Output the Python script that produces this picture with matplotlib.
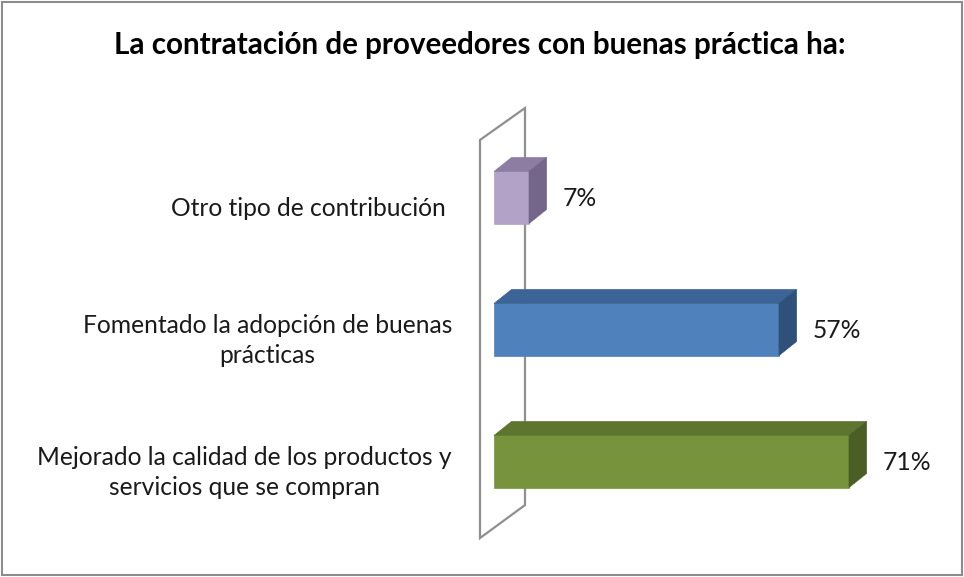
"""
plot.py
-------
3D-looking horizontal bar chart: contratación de proveedores con buenas prácticas.
"""

import matplotlib
matplotlib.use("Agg")
import matplotlib.pyplot as plt
from matplotlib.patches import Polygon, Rectangle

# -------------------------------------------------------------------------
# Data (bottom to top)
# -------------------------------------------------------------------------
categories = [
    "Mejorado la calidad de los productos y\nservicios que se compran",
    "Fomentado la adopción de buenas\nprácticas",
    "Otro tipo de contribución ",
]
values = [71, 57, 7]
value_labels = ["71%", "57%", "7%"]

title = "La contratación de proveedores con buenas práctica ha:"

# front / top / side shades for each bar
front_colors = ["#77933C", "#4F81BD", "#B3A2C7"]
top_colors = ["#5E7530", "#3D6496", "#8E7DA3"]
side_colors = ["#4B5E26", "#2F5079", "#74668A"]

FONT = "Lato"

# -------------------------------------------------------------------------
# Figure + axes (x in %, y in category index)
# -------------------------------------------------------------------------
W, H = 964, 577
fig = plt.figure(figsize=(W / 100, H / 100), dpi=100)
fig.patch.set_facecolor("white")

ax = fig.add_axes([494 / W, (H - 527.5) / H, 400 / W, 396 / H])
ax.set_xlim(0, 80)
ax.set_ylim(-0.5, 2.5)
ax.axis("off")

bar_h = 0.394        # bar thickness in category units
dx, dy = 3.5, 0.106  # 3D depth offset (x in %, y in category units)

# back wall (drawn behind the bars)
wall = Polygon([(-2.8, -0.58), (-2.8, 2.436), (6.2, 2.678), (6.2, -0.33)],
               closed=True, facecolor="none", edgecolor="#8f8f8f", lw=1.6,
               clip_on=False, zorder=1)
ax.add_patch(wall)

for i, v in enumerate(values):
    y0, y1 = i - bar_h / 2, i + bar_h / 2
    ax.add_patch(Rectangle((0, y0), v, bar_h, facecolor=front_colors[i],
                           edgecolor=front_colors[i], lw=0.5, clip_on=False, zorder=3))
    ax.add_patch(Polygon([(0, y1), (v, y1), (v + dx, y1 + dy), (dx, y1 + dy)],
                         closed=True, facecolor=top_colors[i], edgecolor=top_colors[i],
                         lw=0.5, clip_on=False, zorder=3))
    ax.add_patch(Polygon([(v, y0), (v, y1), (v + dx, y1 + dy), (v + dx, y0 + dy)],
                         closed=True, facecolor=side_colors[i], edgecolor=side_colors[i],
                         lw=0.5, clip_on=False, zorder=3))

    # data label to the right of the bar
    ax.annotate(value_labels[i], xy=(v, i), xytext=(34, -1), textcoords="offset pixels",
                ha="left", va="center", fontsize=17.7, family=FONT, color="#1a1a1a")

    # category label left of the wall
    ax.annotate(categories[i], xy=(0, i), xytext=(-42, -11), textcoords="offset pixels",
                ha="right", va="center", multialignment="center", linespacing=1.42,
                fontsize=17.7, family=FONT, color="#1a1a1a")

fig.text(480 / W, 1 - 45 / H, title, ha="center", va="center",
         fontsize=21.3, fontweight="bold", family=FONT, color="black")

# outer chart border
fig.add_artist(Rectangle((2 / W, 2 / H), 960 / W, 573 / H, transform=fig.transFigure,
                         facecolor="none", edgecolor="#8c8c8c", lw=1.5))

fig.savefig("out.png", dpi=100)
